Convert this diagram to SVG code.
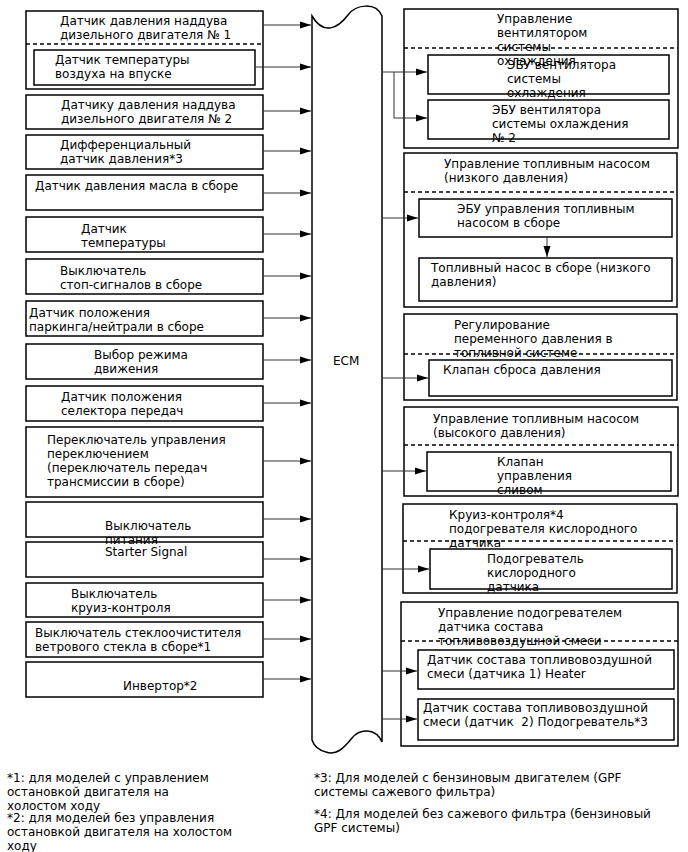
<svg xmlns="http://www.w3.org/2000/svg" width="688" height="852" viewBox="0 0 688 852">
<style>
.b{fill:#fff;stroke:#000;stroke-width:1.5}
.d{fill:none;stroke:#000;stroke-width:1.5;stroke-dasharray:4,3}
.c{fill:none;stroke:#333;stroke-width:1}
.a{fill:none;stroke:#333;stroke-width:1;marker-end:url(#ah)}
text{font-family:"DejaVu Sans","Liberation Sans",sans-serif;font-size:12px;fill:#000}
</style>
<defs>
<marker id="ah" markerUnits="userSpaceOnUse" markerWidth="11" markerHeight="8" refX="11" refY="4" orient="auto">
<path d="M0,0.5 L11,4 L0,7.5 z" fill="#000"/>
</marker>
</defs>
<rect width="688" height="852" fill="#fff"/>

<g id="ecm">
<path class="b" d="M312,16 C324,36 338,28 348,15 C356,4 376,2 382,16 L382,742 C376,728 360,728 352,738 C344,748 336,756 326,752 C318,750 314,746 312,740 Z"/>
<text x="333" y="365">ECM</text>
</g>

<g id="n1">
<rect class="b" x="26" y="11" width="237" height="78"/>
<line class="d" x1="26" y1="44" x2="263" y2="44"/>
<text x="60" y="25">Датчик давления наддува</text>
<text x="60" y="39">дизельного двигателя № 1</text>
</g>
<g id="n1a">
<rect class="b" x="34" y="50" width="221" height="35"/>
<text x="55" y="64">Датчик температуры</text>
<text x="55" y="78">воздуха на впуске</text>
</g>
<g id="n2">
<rect class="b" x="26" y="95" width="237" height="34"/>
<text x="61" y="109">Датчику давления наддува</text>
<text x="61" y="123">дизельного двигателя № 2</text>
</g>
<g id="n3">
<rect class="b" x="26" y="135" width="237" height="34"/>
<text x="60" y="149">Дифференциальный</text>
<text x="60" y="163">датчик давления*3</text>
</g>
<g id="n4">
<rect class="b" x="26" y="175" width="237" height="35"/>
<text x="35" y="190">Датчик давления масла в сборе</text>
</g>
<g id="n5">
<rect class="b" x="26" y="217" width="237" height="35"/>
<text x="81" y="233">Датчик</text>
<text x="81" y="247">температуры</text>
</g>
<g id="n6">
<rect class="b" x="26" y="259" width="237" height="35"/>
<text x="60" y="275">Выключатель</text>
<text x="60" y="289">стоп-сигналов в сборе</text>
</g>
<g id="n7">
<rect class="b" x="26" y="301" width="237" height="35"/>
<text x="29" y="317">Датчик положения</text>
<text x="29" y="331">паркинга/нейтрали в сборе</text>
</g>
<g id="n8">
<rect class="b" x="26" y="344" width="237" height="35"/>
<text x="94" y="359">Выбор режима</text>
<text x="94" y="373">движения</text>
</g>
<g id="n9">
<rect class="b" x="26" y="386" width="237" height="35"/>
<text x="61" y="401">Датчик положения</text>
<text x="61" y="415">селектора передач</text>
</g>
<g id="n10">
<rect class="b" x="26" y="427" width="237" height="70"/>
<text x="47" y="444">Переключатель управления</text>
<text x="47" y="458">переключением</text>
<text x="47" y="472">(переключатель передач</text>
<text x="47" y="486">трансмиссии в сборе)</text>
</g>
<g id="n11">
<rect class="b" x="26" y="502" width="237" height="35"/>
<text x="105" y="530">Выключатель</text>
<text x="105" y="544">питания</text>
</g>
<g id="n12">
<rect class="b" x="26" y="542" width="237" height="35" fill-opacity="0"/>
<text x="105" y="556">Starter Signal</text>
</g>
<g id="n13">
<rect class="b" x="26" y="583" width="237" height="34"/>
<text x="71" y="598">Выключатель</text>
<text x="71" y="612">круиз-контроля</text>
</g>
<g id="n14">
<rect class="b" x="26" y="622" width="237" height="35"/>
<text x="35" y="637">Выключатель стеклоочистителя</text>
<text x="35" y="651">ветрового стекла в сборе*1</text>
</g>
<g id="n15">
<rect class="b" x="26" y="662" width="237" height="35"/>
<text x="123" y="690">Инвертор*2</text>
</g>

<g id="r1">
<rect class="b" x="404" y="9" width="274" height="139"/>
<line class="d" x1="404" y1="48" x2="678" y2="48"/>
<text x="497" y="23">Управление</text>
<text x="497" y="37">вентилятором</text>
<text x="497" y="51">системы</text>
<text x="497" y="65">охлаждения</text>
</g>
<g id="r1a">
<rect class="b" x="428" y="55" width="241" height="39" fill-opacity="0"/>
<text x="507" y="69">ЭБУ вентилятора</text>
<text x="507" y="83">системы</text>
<text x="507" y="97">охлаждения</text>
</g>
<g id="r1b">
<rect class="b" x="428" y="100" width="241" height="39"/>
<text x="492" y="114">ЭБУ вентилятора</text>
<text x="492" y="128">системы охлаждения</text>
<text x="492" y="142">№ 2</text>
</g>

<g id="r2">
<rect class="b" x="404" y="153" width="273" height="154"/>
<line class="d" x1="404" y1="192" x2="677" y2="192"/>
<text x="444" y="168">Управление топливным насосом</text>
<text x="444" y="182">(низкого давления)</text>
</g>
<g id="r2a">
<rect class="b" x="419" y="199" width="253" height="38"/>
<text x="457" y="213">ЭБУ управления топливным</text>
<text x="457" y="227">насосом в сборе</text>
</g>
<g id="r2b">
<rect class="b" x="419" y="258" width="253" height="43"/>
<text x="431" y="272">Топливный насос в сборе (низкого</text>
<text x="431" y="286">давления)</text>
</g>

<g id="r3">
<rect class="b" x="404" y="314" width="273" height="86"/>
<line class="d" x1="404" y1="354" x2="677" y2="354"/>
<text x="454" y="329">Регулирование</text>
<text x="454" y="343">переменного давления в</text>
<text x="454" y="357">топливной системе</text>
</g>
<g id="r3a">
<rect class="b" x="429" y="360" width="243" height="36"/>
<text x="443" y="374">Клапан сброса давления</text>
</g>

<g id="r4">
<rect class="b" x="404" y="407" width="274" height="89"/>
<line class="d" x1="404" y1="445" x2="678" y2="445"/>
<text x="433" y="423">Управление топливным насосом</text>
<text x="433" y="437">(высокого давления)</text>
</g>
<g id="r4a">
<rect class="b" x="427" y="452" width="244" height="39"/>
<text x="497" y="466">Клапан</text>
<text x="497" y="480">управления</text>
<text x="497" y="494">сливом</text>
</g>

<g id="r5">
<rect class="b" x="403" y="504" width="274" height="89"/>
<line class="d" x1="403" y1="541" x2="677" y2="541"/>
<text x="449" y="519">Круиз-контроля*4</text>
<text x="449" y="533">подогревателя кислородного</text>
<text x="449" y="547">датчика</text>
</g>
<g id="r5a">
<rect class="b" x="430" y="549" width="242" height="40"/>
<text x="487" y="563">Подогреватель</text>
<text x="487" y="577">кислородного</text>
<text x="487" y="591">датчика</text>
</g>

<g id="r6">
<rect class="b" x="401" y="602" width="277" height="144"/>
<line class="d" x1="401" y1="641" x2="678" y2="641"/>
<text x="438" y="617">Управление подогревателем</text>
<text x="438" y="631">датчика состава</text>
<text x="438" y="645">топливовоздушной смеси</text>
</g>
<g id="r6a">
<rect class="b" x="418" y="650" width="256" height="39"/>
<text x="427" y="664">Датчик состава топливовоздушной</text>
<text x="427" y="678">смеси (датчика 1) Heater</text>
</g>
<g id="r6b">
<rect class="b" x="418" y="699" width="256" height="41"/>
<text x="423" y="712">Датчик состава топливовоздушной</text>
<text x="423" y="726">смеси (датчик&#160; 2) Подогреватель*3</text>
</g>

<g id="connectors">
<line class="a" x1="263" y1="25" x2="311" y2="25"/>
<line class="a" x1="255" y1="67" x2="311" y2="67"/>
<line class="a" x1="263" y1="111" x2="311" y2="111"/>
<line class="a" x1="263" y1="151" x2="311" y2="151"/>
<line class="a" x1="263" y1="193" x2="311" y2="193"/>
<line class="a" x1="263" y1="234" x2="311" y2="234"/>
<line class="a" x1="263" y1="276" x2="311" y2="276"/>
<line class="a" x1="263" y1="318" x2="311" y2="318"/>
<line class="a" x1="263" y1="360" x2="311" y2="360"/>
<line class="a" x1="263" y1="403" x2="311" y2="403"/>
<line class="a" x1="263" y1="461" x2="311" y2="461"/>
<line class="a" x1="263" y1="519" x2="311" y2="519"/>
<line class="a" x1="263" y1="559" x2="311" y2="559"/>
<line class="a" x1="263" y1="600" x2="311" y2="600"/>
<line class="a" x1="263" y1="639" x2="311" y2="639"/>
<line class="a" x1="263" y1="679" x2="311" y2="679"/>
<line class="a" x1="382" y1="72" x2="427" y2="72"/>
<polyline class="a" points="394,72 394,118 427,118"/>
<line class="a" x1="382" y1="218" x2="418" y2="218"/>
<line class="a" x1="547" y1="237" x2="547" y2="257"/>
<line class="a" x1="382" y1="378" x2="428" y2="378"/>
<line class="a" x1="382" y1="471" x2="426" y2="471"/>
<line class="a" x1="382" y1="569" x2="429" y2="569"/>
<line class="a" x1="382" y1="671" x2="417" y2="671"/>
<line class="a" x1="382" y1="719" x2="417" y2="719"/>
</g>

<g id="notes">
<text x="7" y="782">*1: для моделей с управлением</text>
<text x="7" y="796">остановкой двигателя на</text>
<text x="7" y="810">холостом ходу</text>
<text x="7" y="822">*2: для моделей без управления</text>
<text x="7" y="836">остановкой двигателя на холостом</text>
<text x="7" y="850">ходу</text>
<text x="314" y="782">*3: Для моделей с бензиновым двигателем (GPF</text>
<text x="314" y="796">системы сажевого фильтра)</text>
<text x="314" y="818">*4: Для моделей без сажевого фильтра (бензиновый</text>
<text x="314" y="832">GPF системы)</text>
</g>
</svg>
